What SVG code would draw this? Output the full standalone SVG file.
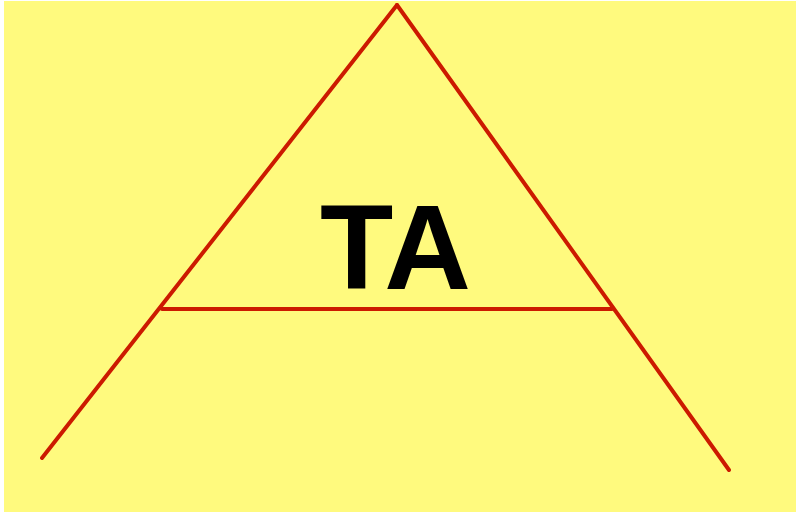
<svg xmlns="http://www.w3.org/2000/svg" width="796" height="515" viewBox="0 0 796 515">
<style>
.ln{stroke:#cc1a00;stroke-width:4;stroke-linecap:round;fill:none}
.lbl{font-family:"Liberation Sans",Arial,sans-serif;font-weight:bold;font-size:120px;fill:#000}
</style>
<rect x="0" y="0" width="796" height="515" fill="#ffffff"/>
<rect x="4" y="1" width="792" height="511" fill="#fffa7e"/>
<g id="connectors">
<line class="ln" x1="397" y1="5" x2="42" y2="458"/>
<line class="ln" x1="397" y1="5" x2="729" y2="470"/>
<line class="ln" x1="162" y1="309" x2="612" y2="309"/>
</g>
<g id="label">
<text class="lbl" x="395.5" y="289" text-anchor="middle">TA</text>
</g>
</svg>
